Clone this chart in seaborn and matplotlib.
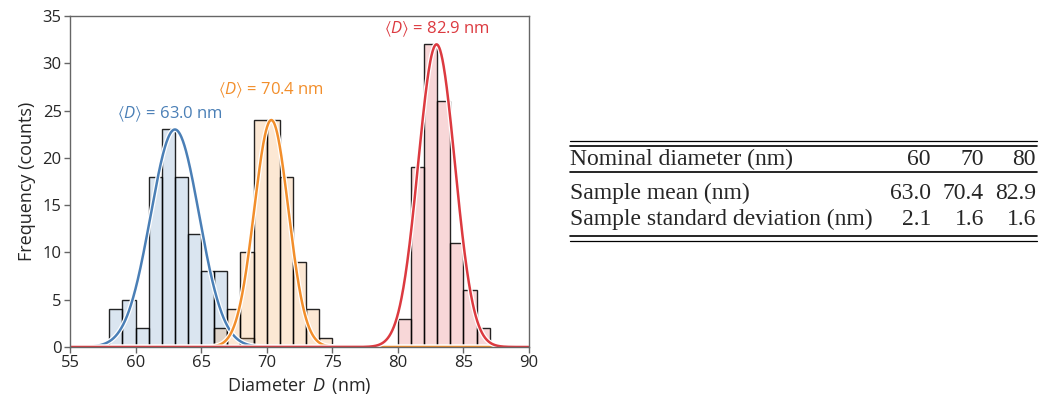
import numpy as np
import pandas as pd
import matplotlib
matplotlib.use("Agg")
import matplotlib.pyplot as plt
import matplotlib.patheffects as pe
from matplotlib.lines import Line2D
import seaborn as sns

# ---------------- data ----------------
bin_edges_blue = [58, 59, 60, 61, 62, 63, 64, 65, 66, 67, 68, 69]
counts_blue = [4, 5, 2, 18, 23, 18, 12, 8, 8, 0, 1]

bin_edges_orange = [66, 67, 68, 69, 70, 71, 72, 73, 74, 75]
counts_orange = [2, 4, 10, 24, 24, 18, 9, 4, 1]

bin_edges_red = [80, 81, 82, 83, 84, 85, 86, 87]
counts_red = [3, 19, 32, 26, 11, 6, 2]

series_names = ["60 nm", "70 nm", "80 nm"]
line_colors = ["#4a7fb6", "#f28e2b", "#dc3a40"]

# fitted curves (centre, width, peak height)
curve_mu = [63.0, 70.35, 82.95]
curve_sigma = [1.85, 1.30, 1.40]
curve_peak = [23, 24, 32]

label_values = ["63.0", "70.4", "82.9"]
label_x = [62.6, 70.3, 83.0]
label_y = [24.6, 27.2, 33.6]

table_header = ["Nominal diameter (nm)", "60", "70", "80"]
table_rows = [["Sample mean (nm)", "63.0", "70.4", "82.9"],
              ["Sample standard deviation (nm)", "2.1", "1.6", "1.6"]]

# ---------------- style ----------------
sns.set_theme(style="white")
plt.rcParams["font.family"] = ["Open Sans", "DejaVu Sans"]
plt.rcParams["mathtext.fontset"] = "custom"
plt.rcParams["mathtext.rm"] = "Open Sans"
plt.rcParams["mathtext.it"] = "Open Sans:italic"
plt.rcParams["mathtext.bf"] = "Open Sans:bold"
plt.rcParams["mathtext.fallback"] = "stixsans"

W, H = 1041, 403
fig = plt.figure(figsize=(W / 100, H / 100), dpi=100)
ax = fig.add_axes([70 / W, 1 - 347 / H, 459 / W, 331 / H])

edges_all = [bin_edges_blue, bin_edges_orange, bin_edges_red]
counts_all = [counts_blue, counts_orange, counts_red]
xgrid = np.linspace(55, 90, 1200)

for i in range(3):
    e = [float(v) for v in edges_all[i]]
    centers = [(e[k] + e[k + 1]) / 2 for k in range(len(e) - 1)]
    df = pd.DataFrame({"D": centers, "w": counts_all[i]})
    n_before = len(ax.patches)
    sns.histplot(data=df, x="D", weights="w", bins=e, ax=ax, stat="count",
                 element="bars", fill=True)
    r, g, b = matplotlib.colors.to_rgb(line_colors[i])
    for p in ax.patches[n_before:]:
        p.set_alpha(None)
        p.set_facecolor((r, g, b, 0.2))
        p.set_edgecolor((0, 0, 0, 0.85))
        p.set_linewidth(1.0)
    yc = curve_peak[i] * np.exp(-0.5 * ((xgrid - curve_mu[i]) / curve_sigma[i]) ** 2)
    cdf = pd.DataFrame({"x": xgrid, "y": yc})
    sns.lineplot(data=cdf, x="x", y="y", ax=ax, color=line_colors[i], linewidth=1.8,
                 path_effects=[pe.Stroke(linewidth=3.6, foreground="white"), pe.Normal()])
    ax.text(label_x[i], label_y[i], r"$\langle D\rangle$ = " + label_values[i] + " nm",
            color=line_colors[i], ha="center", va="center", fontsize=12)

ax.set_xlim(55, 90)
ax.set_ylim(0, 35)
ax.set_xticks(np.arange(55, 91, 5))
ax.set_yticks(np.arange(0, 36, 5))
ax.set_xlabel(r"Diameter $\,D\,$ (nm)", fontsize=13, labelpad=3)
ax.set_ylabel("Frequency (counts)", fontsize=13, labelpad=5)
ax.tick_params(axis="both", which="major", direction="out", length=4, width=1,
               color="#666666", labelsize=12, pad=2, bottom=True, left=True)
for s in ax.spines.values():
    s.set_color("#666666")
    s.set_linewidth(1.0)

# ---------------- table ----------------
serif = ["Liberation Serif", "DejaVu Serif"]
tx0, tx1 = 570, 1037
col_right = [931, 984, 1036]

def fy(ypix):
    return 1 - ypix / H

def rule(ypix, lw=1.0):
    fig.add_artist(Line2D([tx0 / W, tx1 / W], [fy(ypix), fy(ypix)], color="black",
                          linewidth=lw, transform=fig.transFigure))

rule(141, 0.9)
rule(146, 1.2)
rule(172, 1.2)
rule(236, 1.2)
rule(241, 0.9)

baselines = [165, 199, 225]
rows = [table_header] + table_rows
for r_i, row in enumerate(rows):
    yb = fy(baselines[r_i])
    fig.text(tx0 / W, yb, row[0], family=serif, fontsize=17, ha="left", va="baseline")
    for c_i in range(3):
        fig.text(col_right[c_i] / W, yb, row[c_i + 1], family=serif, fontsize=17,
                 ha="right", va="baseline")

fig.savefig("out.png", dpi=100)
